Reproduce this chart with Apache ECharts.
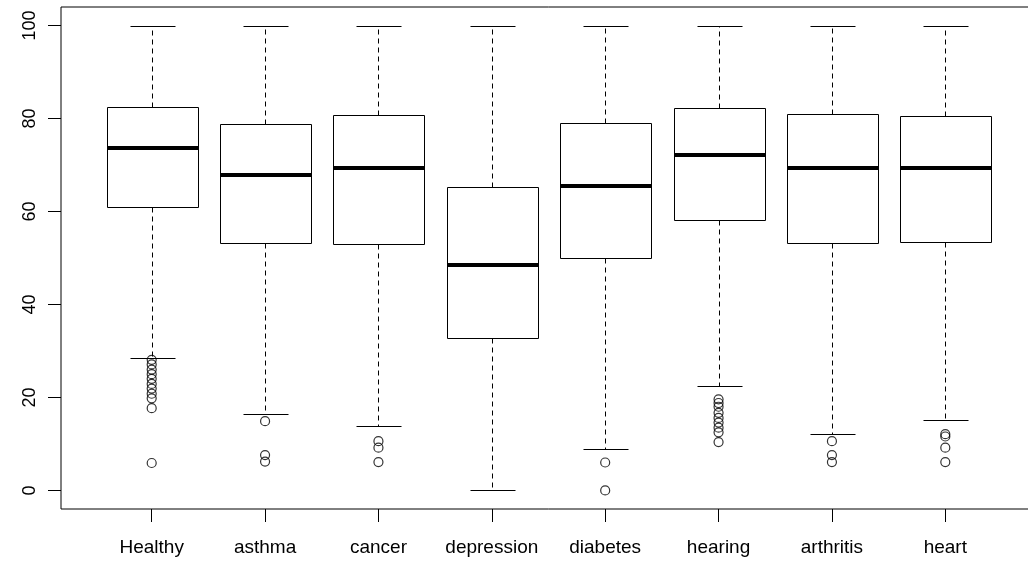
<!DOCTYPE html>
<html>
<head>
<meta charset="utf-8">
<script src="https://cdn.jsdelivr.net/npm/echarts@6/dist/echarts.min.js"></script>
<style>
html,body{margin:0;padding:0;background:#fff;overflow:hidden;width:1028px;height:565px;}
#chart{width:1050px;height:565px;}
</style>
</head>
<body>
<div id="chart"></div>
<script>
const categories = ['Healthy', 'asthma', 'cancer', 'depression', 'diabetes', 'hearing', 'arthritis', 'heart'];
const lowerWhisker = [28.4, 16.4, 13.8, 0, 8.9, 22.5, 12.1, 15.2];
const q1 = [60.9, 53.2, 53.0, 32.8, 50.0, 58.1, 53.2, 53.4];
const median = [73.6, 67.8, 69.3, 48.6, 65.4, 72.2, 69.3, 69.3];
const q3 = [82.4, 78.8, 80.8, 65.3, 79.1, 82.3, 81.0, 80.5];
const upperWhisker = [100, 100, 100, 100, 100, 100, 100, 100];
const outliers = [
  [28.1, 27.1, 26.0, 25.0, 24.0, 22.9, 21.9, 20.8, 19.8, 17.7, 5.9],
  [14.9, 7.6, 6.2],
  [10.6, 9.2, 6.1],
  [],
  [6.0, 0],
  [19.6, 18.8, 18.0, 16.7, 15.6, 14.6, 13.5, 12.5, 10.4],
  [10.6, 7.6, 6.1],
  [12.1, 11.6, 9.2, 6.1]
];
const yTicks = [0, 20, 40, 60, 80, 100];

const boxData = categories.map((c, i) => [i + 1, lowerWhisker[i], q1[i], median[i], q3[i], upperWhisker[i]]);
const outlierData = [];
outliers.forEach((arr, i) => arr.forEach(v => outlierData.push([i + 1, v])));
const xPositions = categories.map((c, i) => i + 1);

const FONT = '"Liberation Sans", Arial, Helvetica, sans-serif';
const px = v => Math.round(v) + 0.5;

function renderBox(params, api) {
  const x = api.value(0);
  const lo = api.coord([x, api.value(1)]);
  const b1 = api.coord([x, api.value(2)]);
  const md = api.coord([x, api.value(3)]);
  const b3 = api.coord([x, api.value(4)]);
  const hi = api.coord([x, api.value(5)]);
  const w = api.size([0.8, 0])[0];
  const half = w / 2;
  const cap = w / 4;
  const cx = px(md[0]);
  const stroke = '#000';
  const left = px(cx - half), right = px(cx + half);
  return {
    type: 'group',
    children: [
      {type: 'line', shape: {x1: cx, y1: px(b3[1]), x2: cx, y2: px(hi[1])}, style: {stroke, lineWidth: 1, lineDash: [5, 4]}},
      {type: 'line', shape: {x1: cx, y1: px(b1[1]), x2: cx, y2: px(lo[1])}, style: {stroke, lineWidth: 1, lineDash: [5, 4]}},
      {type: 'line', shape: {x1: px(cx - cap), y1: px(hi[1]), x2: px(cx + cap), y2: px(hi[1])}, style: {stroke, lineWidth: 1}},
      {type: 'line', shape: {x1: px(cx - cap), y1: px(lo[1]), x2: px(cx + cap), y2: px(lo[1])}, style: {stroke, lineWidth: 1}},
      {type: 'rect', shape: {x: left, y: px(b3[1]), width: right - left, height: px(b1[1]) - px(b3[1])}, style: {fill: 'none', stroke, lineWidth: 1}},
      {type: 'line', shape: {x1: left, y1: Math.round(md[1]), x2: right, y2: Math.round(md[1])}, style: {stroke, lineWidth: 4}}
    ]
  };
}

const chart = echarts.init(document.getElementById('chart'), null, {renderer: 'canvas'});
chart.setOption({
  animation: false,
  backgroundColor: '#fff',
  textStyle: {fontFamily: FONT},
  grid: {left: 61, top: 7, width: 975, height: 502, show: true, borderColor: '#000', borderWidth: 1, backgroundColor: 'transparent', containLabel: false},
  xAxis: {
    type: 'value', min: 0.2, max: 8.8,
    axisLine: {show: false, onZero: false},
    splitLine: {show: false},
    axisTick: {show: true, length: 13, customValues: xPositions, lineStyle: {color: '#000', width: 1}},
    axisLabel: {show: true, customValues: xPositions, margin: 29, fontSize: 19, color: '#000', fontFamily: FONT,
      formatter: v => categories[Math.round(v) - 1] || ''}
  },
  yAxis: {
    type: 'value', min: -4, max: 104,
    axisLine: {show: false, onZero: false},
    splitLine: {show: false},
    axisTick: {show: true, length: 13, customValues: yTicks, lineStyle: {color: '#000', width: 1}},
    axisLabel: {show: true, customValues: yTicks, rotate: 90, margin: 22, fontSize: 18, color: '#000', fontFamily: FONT}
  },
  series: [
    {
      type: 'custom',
      renderItem: renderBox,
      data: boxData,
      encode: {x: 0, y: [1, 2, 3, 4, 5]},
      silent: true,
      z: 2
    },
    {
      type: 'scatter',
      data: outlierData,
      symbol: 'circle',
      symbolSize: 9,
      itemStyle: {color: 'rgba(0,0,0,0)', borderColor: '#000', borderWidth: 1.2},
      silent: true,
      z: 3
    }
  ]
});
</script>
</body>
</html>
